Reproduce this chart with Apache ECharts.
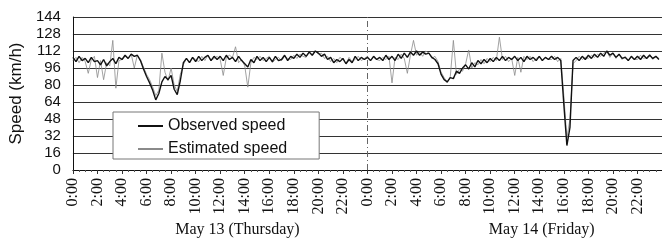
<!DOCTYPE html>
<html>
<head>
<meta charset="utf-8">
<script src="https://cdn.jsdelivr.net/npm/echarts@6/dist/echarts.min.js"></script>
<style>
  html, body { margin: 0; padding: 0; background: #fff; }
  #speedChart { width: 662px; height: 242px; }
</style>
</head>
<body>
<div id="speedChart"></div>
<script>
// 15-minute samples, two days (May 13 and May 14)
const stepHours = 0.25;
const dayBoundary = 24;
const dayNames = ['May 13 (Thursday)', 'May 14 (Friday)'];
const dayLabelHour = [13.4, 38.2];
const yTicks = [0, 16, 32, 48, 64, 80, 96, 112, 128, 144];

const observedSpeed = [
  // May 13
  106,102,107,103, 105,101,106,102, 103,99,104,98, 102,105,100,106,
  104,108,105,109, 107,108,103,95, 88,82,75,66, 72,83,88,85,
  89,76,71,84, 101,105,101,106, 102,107,103,106, 108,103,107,104,
  107,103,108,104, 106,102,107,103, 100,97,104,101, 107,103,106,102,
  106,102,107,103, 104,108,103,107, 105,109,106,110, 107,111,108,112,
  110,107,109,104, 106,101,104,102, 105,100,104,101, 107,103,106,104,
  // May 14
  106,103,107,104, 106,103,108,104, 107,103,109,105, 110,106,111,108,
  112,108,111,109, 110,106,104,100, 90,85,83,87, 86,93,91,96,
  99,95,101,97, 103,100,104,101, 105,102,106,103, 107,103,106,104,
  107,103,106,102, 107,104,106,103, 107,103,106,104, 107,104,106,103,
  62,23,40,103, 106,103,107,104, 108,105,109,106, 110,107,112,108,
  110,106,109,105, 106,103,107,104, 107,104,108,105, 108,105,107,104
];

const estimatedSpeed = [
  // May 13
  103,106,101,106, 102,91,104,107, 87,103,85,101, 98,122,77,103,
  104,107,105,109, 96,108,104,97, 90,85,78,70, 75,110,92,84,
  96,80,74,90, 99,105,101,106, 104,102,107,103, 108,103,105,107,
  104,89,106,108, 106,116,101,104, 98,78,101,106, 104,107,103,105,
  107,101,104,106, 103,107,105,104, 108,105,109,107, 106,111,108,112,
  109,110,105,107, 102,105,101,106, 104,100,106,102, 104,107,103,105,
  // May 14
  107,103,106,104, 103,106,104,107, 82,106,104,109, 105,91,108,122,
  108,111,107,112, 110,105,107,102, 92,87,82,88, 122,90,95,93,
  100,113,96,101, 99,104,100,105, 102,106,103,125, 104,107,102,105,
  89,106,92,107, 104,107,102,105, 107,103,106,104, 104,107,102,105,
  70,30,48,100, 103,107,104,106, 105,108,106,109, 107,110,112,106,
  110,105,109,104, 107,103,106,104, 104,108,105,106, 109,104,107,105
];

const observedPoints = observedSpeed.map((v, i) => [i * stepHours, v]);
const estimatedPoints = estimatedSpeed.map((v, i) => [i * stepHours, v]);

const myChart = echarts.init(document.getElementById('speedChart'));

const option = {
  animation: false,
  backgroundColor: '#fff',
  grid: {
    left: 66,
    top: 17,
    right: -5,
    bottom: 72
  },
  legend: {
    orient: 'vertical',
    left: 113,
    top: 112,
    padding: [6, 32, 2, 24],
    itemWidth: 25,
    itemHeight: 16,
    itemGap: 7,
    backgroundColor: '#fff',
    borderColor: '#777',
    borderWidth: 1,
    itemStyle: { opacity: 0 },
    textStyle: {
      fontFamily: 'Liberation Sans',
      fontSize: 16,
      color: '#111'
    },
    data: ['Observed speed', 'Estimated speed']
  },
  xAxis: {
    type: 'value',
    min: 0,
    max: 48,
    interval: 2,
    axisLine: { lineStyle: { color: '#111', width: 1 } },
    axisTick: { show: true, length: 4, lineStyle: { color: '#333' } },
    minorTick: { show: true, splitNumber: 4, length: 2, lineStyle: { color: '#555' } },
    splitLine: { show: false },
    axisLabel: {
      rotate: 90,
      margin: 8,
      showMaxLabel: false,
      fontFamily: 'Liberation Serif',
      fontSize: 16,
      color: '#111',
      formatter: function (v) {
        return (v % 24) + ':00';
      }
    }
  },
  yAxis: {
    type: 'value',
    min: yTicks[0],
    max: yTicks[yTicks.length - 1],
    interval: 16,
    name: 'Speed (km/h)',
    nameLocation: 'middle',
    nameGap: 44,
    nameTextStyle: {
      fontFamily: 'Liberation Sans',
      fontSize: 17,
      color: '#111'
    },
    axisLine: { show: true, lineStyle: { color: '#111', width: 1 } },
    axisTick: { show: false },
    splitLine: { lineStyle: { color: '#333', width: 1 } },
    axisLabel: {
      margin: 12,
      fontFamily: 'Liberation Sans',
      fontSize: 15,
      color: '#111'
    }
  },
  series: [
    {
      name: 'Estimated speed',
      type: 'line',
      data: estimatedPoints,
      symbol: 'none',
      z: 2,
      lineStyle: { color: '#8a8a8a', width: 0.8 },
      itemStyle: { color: '#8a8a8a' }
    },
    {
      name: 'Observed speed',
      type: 'line',
      data: observedPoints,
      symbol: 'none',
      z: 3,
      lineStyle: { color: '#111', width: 1.4 },
      itemStyle: { color: '#111' },
      markLine: {
        silent: true,
        symbol: 'none',
        label: { show: false },
        lineStyle: { color: '#666', type: [6, 3, 1, 3], width: 1 },
        data: [{ xAxis: dayBoundary }]
      }
    }
  ]
};

myChart.setOption(option);

// day captions under the time labels
const dayText = dayNames.map((name, i) => {
  const px = myChart.convertToPixel({ gridIndex: 0 }, [dayLabelHour[i], 0]);
  return {
    type: 'text',
    x: px[0],
    y: 230,
    style: {
      text: name,
      fill: '#111',
      font: '16px "Liberation Serif", "Times New Roman", serif',
      align: 'center',
      verticalAlign: 'middle'
    }
  };
});
myChart.setOption({ graphic: dayText });
</script>
</body>
</html>
